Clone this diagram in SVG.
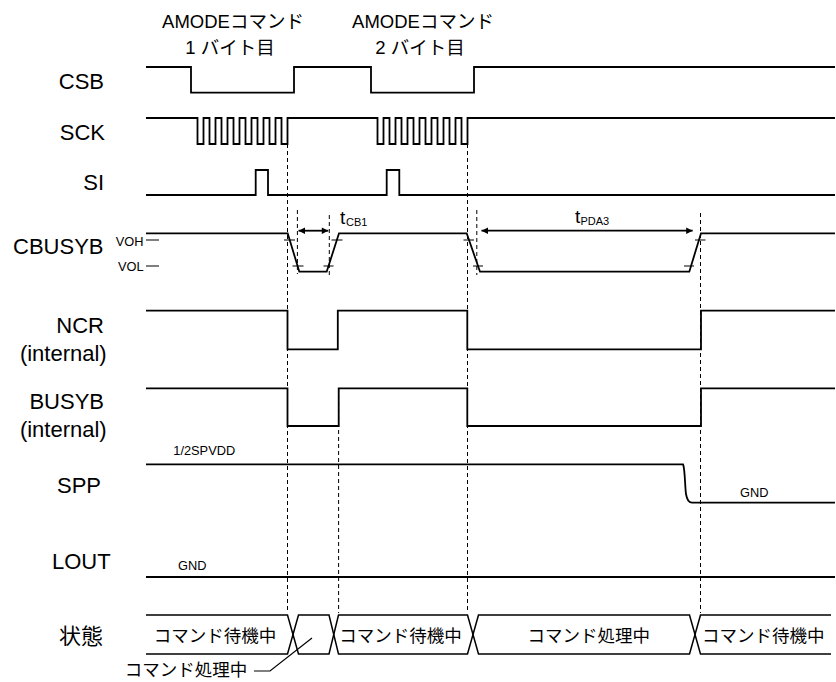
<svg xmlns="http://www.w3.org/2000/svg" width="836" height="682" viewBox="0 0 836 682">
<defs>
<marker id="ah" viewBox="0 0 10 10" refX="10" refY="5" markerWidth="8" markerHeight="6.5" markerUnits="userSpaceOnUse" orient="auto-start-reverse"><path d="M0,0 L10,5 L0,10 Z" fill="#000"/></marker>
</defs>
<style>
text{font-family:"Liberation Sans","Noto Sans CJK JP",sans-serif;fill:#000}
.lbl{font-size:22px;text-anchor:end}
.ttl{font-size:18.5px;text-anchor:middle}
.st{font-size:17.5px;text-anchor:middle}
.sm{font-size:12.8px}
.tt{font-size:19px}
.sb{font-size:11px}
.sig{fill:none;stroke:#000;stroke-width:1.8;stroke-linejoin:miter}
.box{fill:none;stroke:#000;stroke-width:1.5}
.thin{fill:none;stroke:#000;stroke-width:1.2}
.dash{fill:none;stroke:#000;stroke-width:1;stroke-dasharray:4 3}
.arr{fill:none;stroke:#000;stroke-width:1.8}
</style>
<rect width="836" height="682" fill="#fff"/>

<g id="titles">
<text class="ttl" x="233" y="28">AMODEコマンド</text>
<text class="ttl" x="230" y="54">1 バイト目</text>
<text class="ttl" x="423" y="28">AMODEコマンド</text>
<text class="ttl" x="420" y="54">2 バイト目</text>
</g>

<g id="csb">
<text class="lbl" x="104" y="89">CSB</text>
<path class="sig" d="M146,67 H191 V92.7 H294 V67 H371 V92.7 H474 V67 H835"/>
</g>

<g id="sck">
<text class="lbl" x="105" y="140">SCK</text>
<path class="sig" d="M146,118 H197.5 V144 H203.5 V118 H209.5 V144 H215.5 V118 H221.5 V144 H227.5 V118 H233.5 V144 H239.5 V118 H245.5 V144 H251.5 V118 H257.5 V144 H263.5 V118 H269.5 V144 H275.5 V118 H281.5 V144 H287.5 V118 H377.5 V144 H383.5 V118 H389.5 V144 H395.5 V118 H401.5 V144 H407.5 V118 H413.5 V144 H419.5 V118 H425.5 V144 H431.5 V118 H437.5 V144 H443.5 V118 H449.5 V144 H455.5 V118 H461.5 V144 H467.5 V118 H835"/>
</g>

<g id="si">
<text class="lbl" x="104" y="190">SI</text>
<path class="sig" d="M146,195 H255.7 V170 H268 V195 H386.7 V170 H399.3 V195 H835"/>
</g>

<g id="cbusyb">
<text class="lbl" x="103.5" y="254">CBUSYB</text>
<text class="sm" x="143.5" y="246" text-anchor="end">VOH</text>
<text class="sm" x="143.5" y="271" text-anchor="end">VOL</text>
<path class="thin" d="M146,240 H159 M146,266 H159"/>
<path class="sig" d="M146,233.3 H287.7 L299.3,271.7 H326.7 L339,233.3 H466.7 L480,271.7 H689.3 L701,233.3 H835"/>
<path class="thin" d="M284,240 H295 M292.5,266 H303.5 M323.5,266 H333.5 M331.5,240 H342.5 M463.5,240 H474 M473,266 H483 M684,266 H694 M695,240 H705.5"/>
<text class="tt" x="340" y="224">t</text>
<text class="sb" x="346" y="226">CB1</text>
<text class="tt" x="575" y="223">t</text>
<text class="sb" x="580.5" y="225">PDA3</text>
</g>

<g id="ncr">
<text class="lbl" x="104" y="332.7">NCR</text>
<text class="lbl" x="106.7" y="360.7">(internal)</text>
<path class="sig" d="M146,310.7 H287.5 V349.3 H337.8 V310.7 H467.3 V349.3 H701 V310.7 H835"/>
</g>

<g id="busyb">
<text class="lbl" x="104" y="409.3">BUSYB</text>
<text class="lbl" x="106.7" y="437.3">(internal)</text>
<path class="sig" d="M146,388.3 H287.5 V426 H338.7 V388.3 H467.3 V426 H701 V388.3 H835"/>
</g>

<g id="spp">
<text class="lbl" x="101" y="492.7">SPP</text>
<text class="sm" x="173.3" y="455">1/2SPVDD</text>
<text class="sm" x="740" y="496.7">GND</text>
<path class="sig" d="M146,464.3 H683 C685,468 685,488 686,494 C687,500 688.5,502.7 692,502.7 H835"/>
</g>

<g id="lout">
<text class="lbl" x="110.7" y="569">LOUT</text>
<text class="sm" x="178" y="570">GND</text>
<path class="sig" d="M146,577 H835"/>
</g>

<g id="state">
<text class="lbl" x="103" y="644">状態</text>
<path class="box" d="M146,615 H287.5 L298.5,654 H329 L338.5,615 H467.5 L478.5,654 H689.5 L700.5,615 H831"/>
<path class="box" d="M146,654 H287.5 L298.5,615 H329 L338.5,654 H467.5 L478.5,615 H689.5 L700.5,654 H831"/>
<text class="st" x="215" y="641.5">コマンド待機中</text>
<text class="st" x="400.5" y="641.5">コマンド待機中</text>
<text class="st" x="588.7" y="641.5">コマンド処理中</text>
<text class="st" x="763.3" y="641.5">コマンド待機中</text>
<text class="st" x="186" y="676">コマンド処理中</text>
<path class="thin" d="M254,671 H270 L312,638"/>
</g>

<g id="connectors">
<path class="dash" d="M287.5,144 V613"/>
<path class="dash" d="M297.4,210 V274"/>
<path class="dash" d="M329.3,215 V275"/>
<path class="dash" d="M338.6,388 V613"/>
<path class="dash" d="M467.5,144 V613"/>
<path class="dash" d="M476.8,210 V275"/>
<path class="dash" d="M700.5,213 V613"/>
<path class="arr" d="M298.5,230.7 H328.3" marker-start="url(#ah)" marker-end="url(#ah)"/>
<path class="arr" d="M481.5,230.7 H692.7" marker-start="url(#ah)" marker-end="url(#ah)"/>
</g>
</svg>
